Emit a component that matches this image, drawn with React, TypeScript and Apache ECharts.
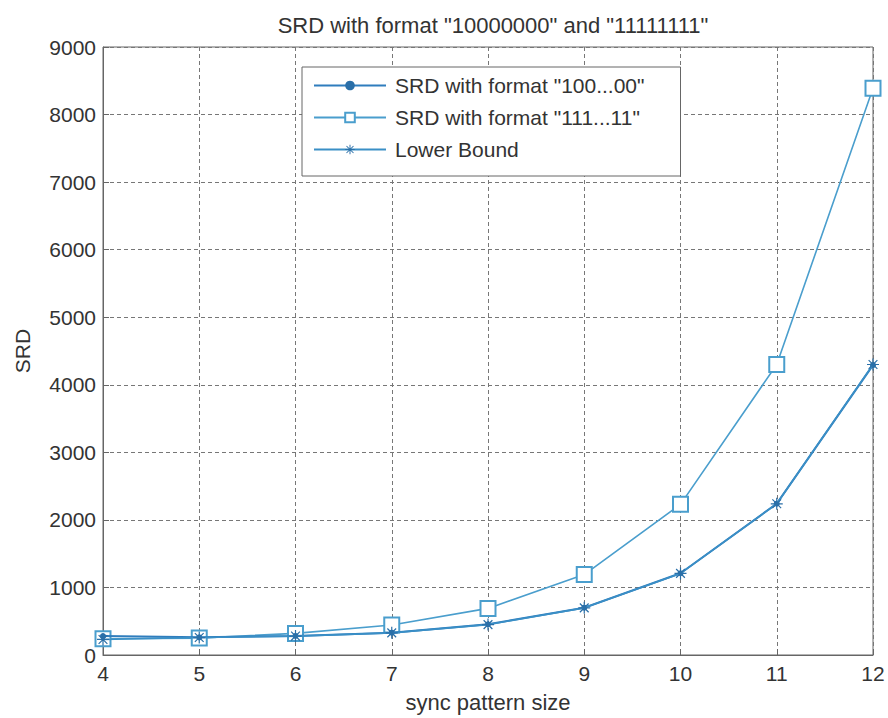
import React, { useEffect, useRef } from "react";
import * as echarts from "echarts";

const xValues = [4, 5, 6, 7, 8, 9, 10, 11, 12];
const srd100 = [280, 262, 282, 330, 455, 700, 1210, 2240, 4290];
const srd111 = [240, 250, 320, 445, 690, 1190, 2230, 4300, 8390];
const lowerBound = [230, 258, 280, 328, 450, 698, 1208, 2238, 4300];

const seriesNames = [
  'SRD with format "100...00"',
  'SRD with format "111...11"',
  "Lower Bound",
];

const starPath =
  "path://M4.5 0h1v10h-1z M0 4.5h10v1h-10z M1 1.7L1.7 1L9 8.3L8.3 9Z M8.3 1L9 1.7L1.7 9L1 8.3Z";

export default function App() {
  const ref = useRef<HTMLDivElement>(null);
  useEffect(() => {
    if (!ref.current) return;
    const chart = echarts.init(ref.current, null, { renderer: "svg" });
    const toPairs = (ys: number[]) => xValues.map((x, i) => [x, ys[i]]);
    const font = "Liberation Sans, Arial, sans-serif";
    chart.setOption({
      animation: false,
      backgroundColor: "#ffffff",
      textStyle: { fontFamily: font },
      title: {
        text: 'SRD with format "10000000" and "11111111"',
        left: 488,
        textAlign: "center",
        top: 9,
        textStyle: { fontSize: 22, fontWeight: "normal", color: "#333", fontFamily: font },
      },
      grid: { left: 103, right: 15, top: 47, bottom: 60, show: true, borderColor: "#666", borderWidth: 1 },
      legend: {
        left: 302,
        top: 67,
        orient: "vertical",
        itemWidth: 72,
        itemHeight: 12,
        itemGap: 11,
        padding: [8, 36, 16, 11],
        backgroundColor: "#fff",
        borderColor: "#666",
        borderWidth: 1,
        borderRadius: 0,
        textStyle: { fontSize: 21, color: "#333", fontFamily: font, padding: [0, 0, 0, 4] },
        data: seriesNames,
      },
      xAxis: {
        type: "value",
        min: 4,
        max: 12,
        interval: 1,
        name: "sync pattern size",
        nameLocation: "middle",
        nameGap: 36,
        nameTextStyle: { fontSize: 22, color: "#333" },
        axisLine: { show: true, lineStyle: { color: "#666" } },
        axisTick: { show: true, inside: true, length: 6, lineStyle: { color: "#666" } },
        axisLabel: { fontSize: 21, color: "#333", margin: 8 },
        splitLine: { show: true, lineStyle: { type: [4, 3], color: "#777", width: 1 } },
      },
      yAxis: {
        type: "value",
        min: 0,
        max: 9000,
        interval: 1000,
        name: "SRD",
        nameLocation: "middle",
        nameGap: 70,
        nameTextStyle: { fontSize: 21, color: "#333" },
        axisLine: { show: true, lineStyle: { color: "#666" } },
        axisTick: { show: true, inside: true, length: 6, lineStyle: { color: "#666" } },
        axisLabel: { fontSize: 21, color: "#333", margin: 7, formatter: (v: number) => String(v) },
        splitLine: { show: true, lineStyle: { type: [4, 3], color: "#777", width: 1 } },
      },
      series: [
        {
          name: seriesNames[0],
          type: "line",
          data: toPairs(srd100),
          symbol: "circle",
          symbolSize: 6,
          lineStyle: { color: "#2f7dbd", width: 2 },
          itemStyle: { color: "#2a6fa8" },
          z: 3,
        },
        {
          name: seriesNames[1],
          type: "line",
          data: toPairs(srd111),
          symbol: "emptyRect",
          symbolSize: 15,
          lineStyle: { color: "#4a9ecd", width: 1.6 },
          itemStyle: { color: "#4a9ecd", borderWidth: 1.3 },
          z: 2,
        },
        {
          name: seriesNames[2],
          type: "line",
          data: toPairs(lowerBound),
          symbol: starPath,
          symbolSize: 12,
          lineStyle: { color: "#3a8fc6", width: 1.6 },
          itemStyle: { color: "#2a6fa8" },
          z: 4,
        },
      ],
    });
    return () => chart.dispose();
  }, []);
  return <div ref={ref} style={{ width: 888, height: 718, position: "absolute", left: 0, top: 0 }} />;
}
